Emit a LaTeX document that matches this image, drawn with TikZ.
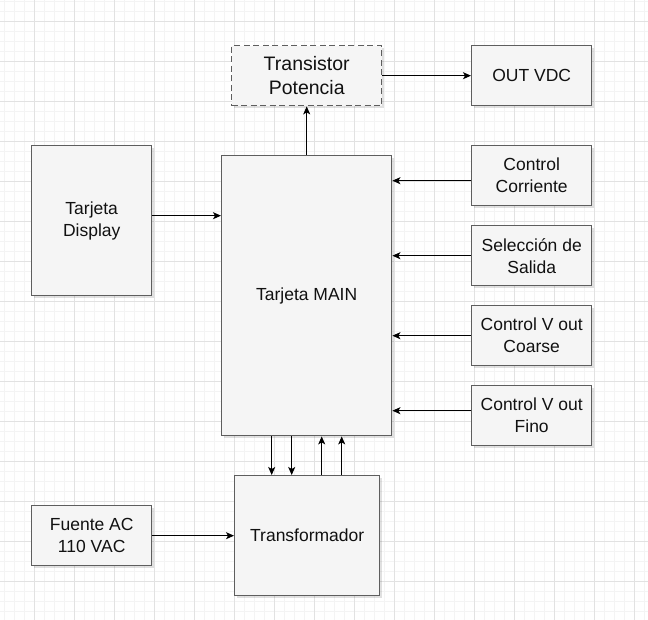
\documentclass[tikz,border=0pt]{standalone}
\usepackage{fontspec}
\setmainfont{Liberation Sans}
\usetikzlibrary{arrows.meta,shadows}
\definecolor{boxfill}{HTML}{F5F5F5}
\definecolor{boxline}{HTML}{5E5E5E}
\definecolor{txt}{HTML}{111111}
\definecolor{gridminor}{HTML}{F4F4F4}
\definecolor{gridmajor}{HTML}{E2E2E2}
\tikzset{
  blk/.style={draw=boxline, fill=boxfill, line width=1.4pt, anchor=north west,
    inner sep=2pt, align=center, text=txt, font=\fontsize{17.5}{22}\selectfont,
    drop shadow={shadow xshift=2pt, shadow yshift=-2pt, opacity=0.12, fill=black}},
  dashblk/.style={blk, dash pattern=on 6pt off 3.5pt, font=\fontsize{19.5}{24}\selectfont},
  arr/.style={draw=black, line width=1.1pt, -{Stealth[length=8pt,width=7pt,inset=2pt]}}
}
\begin{document}
\begin{tikzpicture}[x=1pt,y=-1pt]
\useasboundingbox (0,0) rectangle (648,620);
\fill[white] (0,0) rectangle (648,620);
% grid
\foreach \x in {4.3,14.3,...,644.3} \draw[gridminor, line width=0.8pt] (\x,0) -- (\x,620);
\foreach \y in {1.7,11.7,...,611.7} \draw[gridminor, line width=0.8pt] (0,\y) -- (648,\y);
\foreach \x in {34.3,74.3,...,634.3} \draw[gridmajor, line width=0.9pt] (\x,0) -- (\x,620);
\foreach \y in {21.7,61.7,...,581.7} \draw[gridmajor, line width=0.9pt] (0,\y) -- (648,\y);

% nodes
\node[dashblk, minimum width=150pt, minimum height=60pt] (tp) at (231,45) {Transistor\\Potencia};
\node[blk, minimum width=120pt, minimum height=60pt] (out) at (471,45) {OUT VDC};
\node[blk, minimum width=120pt, minimum height=150pt] (disp) at (31,145) {Tarjeta\\Display};
\node[blk, minimum width=170pt, minimum height=280pt] (main) at (221,155) {Tarjeta MAIN};
\node[blk, minimum width=120pt, minimum height=60pt] (cc) at (471,145) {Control\\Corriente};
\node[blk, minimum width=120pt, minimum height=60pt] (sel) at (471,225) {Selección de\\Salida};
\node[blk, minimum width=120pt, minimum height=60pt] (coarse) at (471,305) {Control V out\\Coarse};
\node[blk, minimum width=120pt, minimum height=60pt] (fino) at (471,385) {Control V out\\Fino};
\node[blk, minimum width=120pt, minimum height=60pt] (fuente) at (31,505) {Fuente AC\\110 VAC};
\node[blk, minimum width=145pt, minimum height=120pt] (trafo) at (234,475) {Transformador};

% connectors
\draw[arr] (tp.east) -- (out.west);
\draw[arr] (main.north) -- (tp.south);
\draw[arr] ([yshift=5pt]disp.east) -- ([yshift=5pt]disp.east -| main.west);
\draw[arr] ([yshift=-5pt]cc.west) -- ([yshift=-5pt]cc.west -| main.east);
\draw[arr] (sel.west) -- (sel.west -| main.east);
\draw[arr] (coarse.west) -- (coarse.west -| main.east);
\draw[arr] ([yshift=5pt]fino.west) -- ([yshift=5pt]fino.west -| main.east);
\draw[arr] (fuente.east) -- (trafo.west);
\draw[arr] ([xshift=-35pt]main.south) -- ([xshift=-35pt]main.south |- trafo.north);
\draw[arr] ([xshift=-15pt]main.south) -- ([xshift=-15pt]main.south |- trafo.north);
\draw[arr] ([xshift=15pt]main.south |- trafo.north) -- ([xshift=15pt]main.south);
\draw[arr] ([xshift=35pt]main.south |- trafo.north) -- ([xshift=35pt]main.south);
\end{tikzpicture}
\end{document}
